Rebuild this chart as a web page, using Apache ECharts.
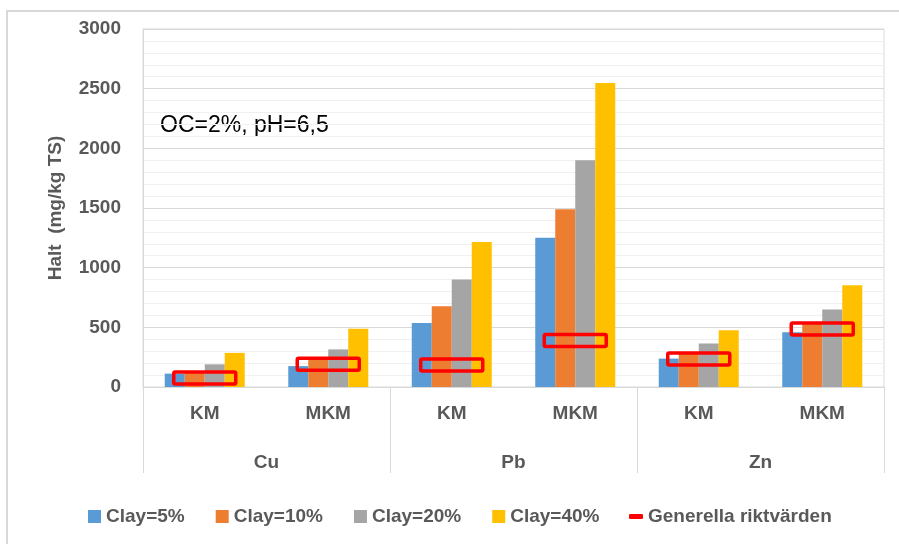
<!DOCTYPE html>
<html>
<head>
<meta charset="utf-8">
<script src="https://cdn.jsdelivr.net/npm/echarts@6/dist/echarts.min.js"></script>
<style>
html,body{margin:0;padding:0;background:#fff;}
#main{width:899px;height:544px;}
</style>
</head>
<body>
<div id="main"></div>
<script>
var categories = ['KM', 'MKM', 'KM', 'MKM', 'KM', 'MKM'];
var metals = ['Cu', 'Pb', 'Zn'];
var clay5 = [112, 175, 536, 1250, 238, 458];
var clay10 = [125, 235, 676, 1490, 280, 530];
var clay20 = [190, 315, 900, 1900, 364, 649];
var clay40 = [286, 488, 1215, 2548, 475, 852];
var riktvarden = [75, 190, 185, 390, 235, 485];
var seriesNames = ['Clay=5%', 'Clay=10%', 'Clay=20%', 'Clay=40%', 'Generella riktvärden'];
var yTitle = 'Halt  (mg/kg TS)';
var note = 'OC=2%, pH=6,5';

var FONT = '"Liberation Sans", Arial, sans-serif';
var GREY = '#595959';
var chart = echarts.init(document.getElementById('main'));

function bar(name, data, color) {
  return {
    name: name, type: 'bar', data: data, xAxisIndex: 0, yAxisIndex: 0,
    barWidth: 20, barGap: '0%',
    itemStyle: { color: color },
    emphasis: { disabled: true }
  };
}

var riktData = riktvarden.map(function (v, i) { return [i, v]; });

var option = {
  animation: false,
  textStyle: { fontFamily: FONT },
  grid: {
    left: 143, right: 15, top: 29, bottom: 157,
    show: true, borderColor: '#d9d9d9', borderWidth: 1
  },
  xAxis: [
    {
      type: 'category', data: categories, position: 'bottom',
      axisLine: { show: true, lineStyle: { color: '#d9d9d9', width: 1 } },
      axisTick: { show: false },
      axisLabel: { color: GREY, fontWeight: 'bold', fontSize: 19, fontFamily: FONT, margin: 17 }
    },
    {
      type: 'category', data: metals, position: 'bottom',
      axisLine: { show: false },
      axisTick: { show: true, length: 86, lineStyle: { color: '#d9d9d9', width: 1 } },
      axisLabel: { color: GREY, fontWeight: 'bold', fontSize: 19, fontFamily: FONT, margin: 66 }
    }
  ],
  yAxis: {
    type: 'value', min: 0, max: 3000, interval: 500,
    axisLine: { show: true, lineStyle: { color: '#d9d9d9' } },
    axisTick: { show: false },
    axisLabel: {
      color: GREY, fontWeight: 'bold', fontSize: 19, fontFamily: FONT, margin: 22,
      formatter: function (v) { return String(v); }
    },
    splitLine: { show: true, lineStyle: { color: '#d9d9d9', width: 1 } },
    minorTick: { show: false, splitNumber: 5 },
    minorSplitLine: { show: true, lineStyle: { color: '#f0f0f0', width: 1 } }
  },
  legend: [
    {
      data: seriesNames.slice(0, 4),
      left: 88, top: 507, padding: 0,
      icon: 'rect', itemWidth: 13, itemHeight: 13, itemGap: 31,
      textStyle: { color: GREY, fontWeight: 'bold', fontSize: 19, fontFamily: FONT },
      selectedMode: false
    },
    {
      data: [seriesNames[4]],
      left: 629, top: 507, padding: 0,
      icon: 'roundRect', itemWidth: 14, itemHeight: 5,
      itemStyle: { color: '#ff0000', borderWidth: 0 },
      textStyle: { color: GREY, fontWeight: 'bold', fontSize: 19, fontFamily: FONT },
      selectedMode: false
    }
  ],
  graphic: [
    {
      type: 'rect', silent: true, z: -1,
      shape: { x: 7, y: 11, width: 950, height: 600 },
      style: { fill: 'none', stroke: '#d9d9d9', lineWidth: 2 }
    },
    {
      type: 'text', x: 56, y: 208, rotation: Math.PI / 2,
      style: { text: yTitle, fill: GREY, font: 'bold 19px ' + FONT, align: 'center', verticalAlign: 'middle' }
    },
    {
      type: 'text', x: 160, y: 126,
      style: { text: note, fill: '#000000', font: '23px ' + FONT, align: 'left', verticalAlign: 'middle' }
    }
  ],
  series: [
    bar(seriesNames[0], clay5, '#5b9bd5'),
    bar(seriesNames[1], clay10, '#ed7d31'),
    bar(seriesNames[2], clay20, '#a5a5a5'),
    bar(seriesNames[3], clay40, '#ffc000'),
    {
      name: seriesNames[4], type: 'custom', data: riktData, xAxisIndex: 0, yAxisIndex: 0, z: 5,
      itemStyle: { color: '#ff0000' },
      renderItem: function (params, api) {
        var p = api.coord([api.value(0), api.value(1)]);
        return {
          type: 'rect',
          shape: { x: p[0] - 31, y: p[1] - 6, width: 62, height: 12, r: 1.5 },
          style: { fill: 'none', stroke: '#ff0000', lineWidth: 3.5 }
        };
      }
    }
  ]
};
chart.setOption(option);
</script>
</body>
</html>
